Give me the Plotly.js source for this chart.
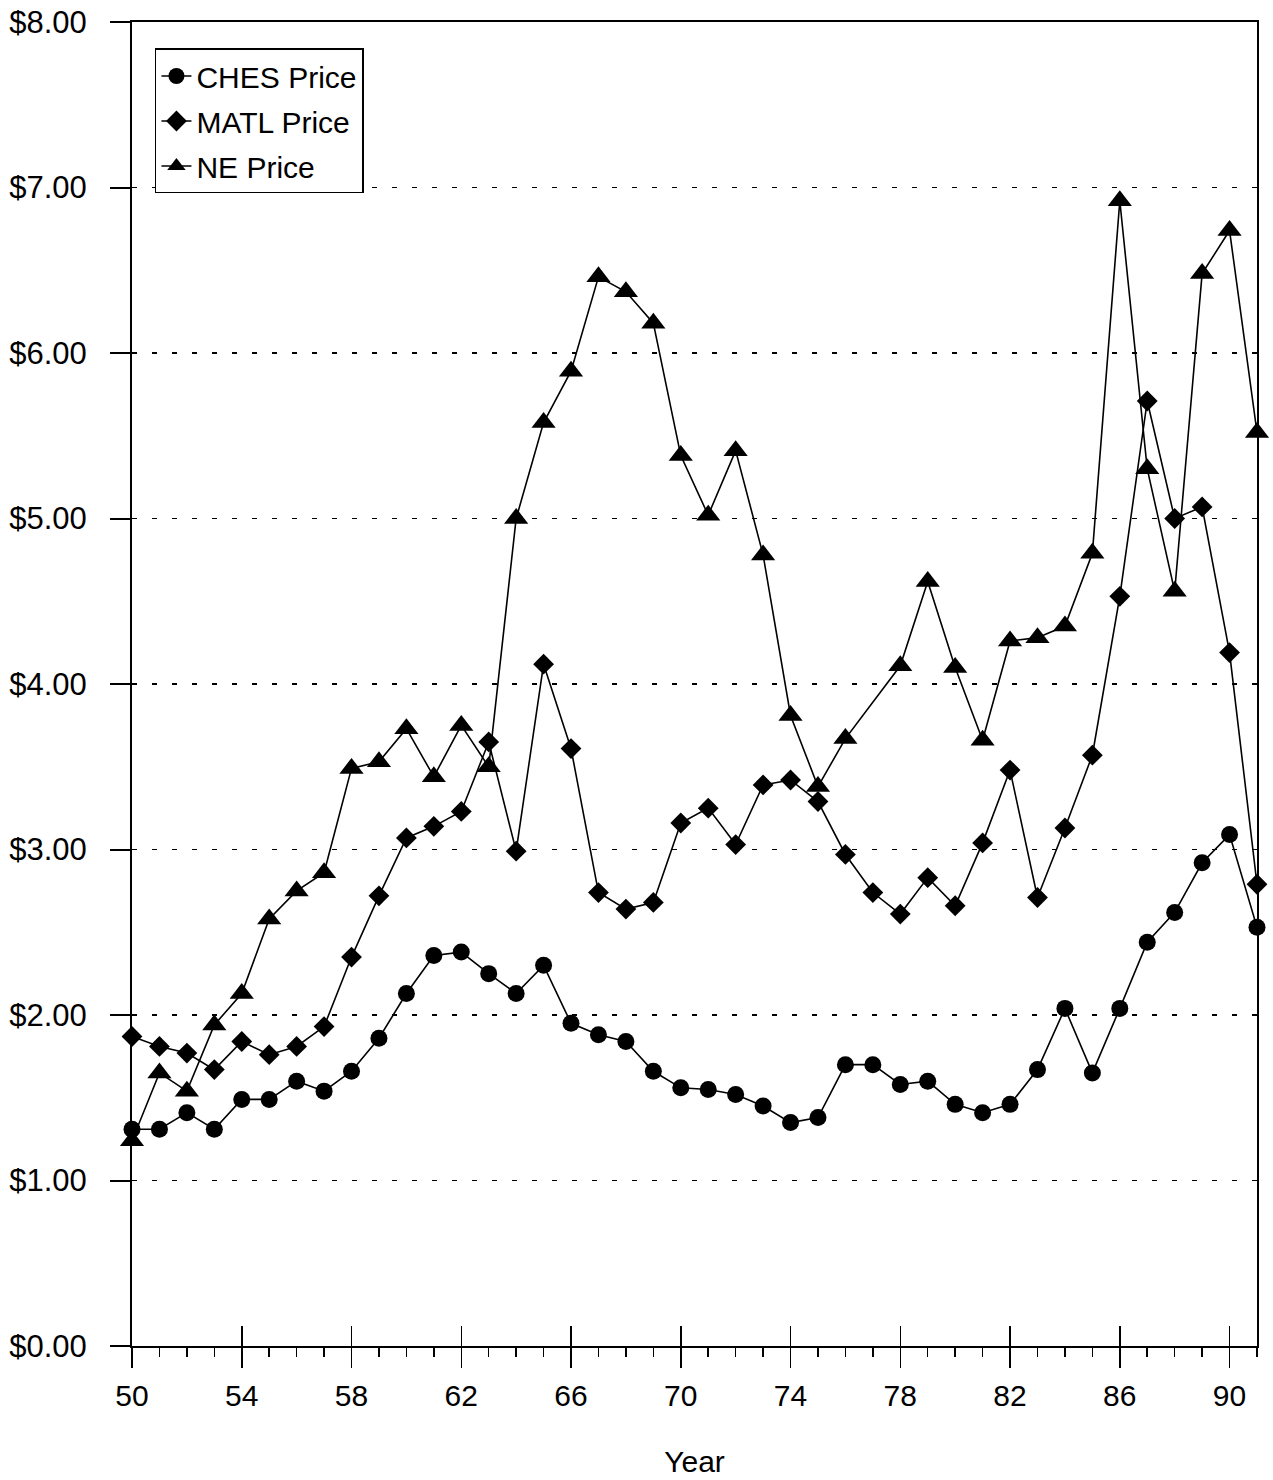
<!DOCTYPE html>
<html>
<head>
<meta charset="utf-8">
<script src="https://cdn.plot.ly/plotly-3.0.1.min.js"></script>
<style>
  html, body { margin: 0; padding: 0; background: #fff; }
  #chart { width: 1273px; height: 1480px; }
</style>
</head>
<body>
<div id="chart"></div>
<script>
// ---- data ----
const years = [50,51,52,53,54,55,56,57,58,59,60,61,62,63,64,65,66,67,68,69,70,
               71,72,73,74,75,76,77,78,79,80,81,82,83,84,85,86,87,88,89,90,91];
const chesPrice = [1.31,1.31,1.41,1.31,1.49,1.49,1.60,1.54,1.66,1.86,2.13,2.36,2.38,2.25,2.13,2.30,1.95,1.88,1.84,1.66,1.56,
                   1.55,1.52,1.45,1.35,1.38,1.70,1.70,1.58,1.60,1.46,1.41,1.46,1.67,2.04,1.65,2.04,2.44,2.62,2.92,3.09,2.53];
const matlPrice = [1.87,1.81,1.77,1.67,1.84,1.76,1.81,1.93,2.35,2.72,3.07,3.14,3.23,3.65,2.99,4.12,3.61,2.74,2.64,2.68,3.16,
                   3.25,3.03,3.39,3.42,3.29,2.97,2.74,2.61,2.83,2.66,3.04,3.48,2.71,3.13,3.57,4.53,5.71,5.00,5.07,4.19,2.79];
const nePrice   = [1.24,1.65,1.54,1.94,2.13,2.58,2.75,2.86,3.49,3.53,3.73,3.44,3.75,3.50,5.00,5.58,5.89,6.46,6.37,6.18,5.38,
                   5.02,5.41,4.78,3.81,3.38,3.67,null,4.11,4.62,4.10,3.66,4.26,4.28,4.35,4.79,6.92,5.30,4.56,6.48,6.74,5.52];
const seriesNames = ["CHES Price", "MATL Price", "NE Price"];
const xTickVals = [50,54,58,62,66,70,74,78,82,86,90];
const yTickVals = [0,1,2,3,4,5,6,7,8];

const FONT = "'Liberation Sans', Arial, Helvetica, sans-serif";
const lineStyle = {color: '#000', width: 1.6};

const traces = [
  {x: years, y: chesPrice, name: seriesNames[0], mode: 'lines+markers', legendgroup: 'a',
   line: lineStyle, marker: {symbol: 'circle', size: 17, color: '#000'}, cliponaxis: false},
  {x: years, y: matlPrice, name: seriesNames[1], mode: 'lines+markers', legendgroup: 'b',
   line: lineStyle, marker: {symbol: 'diamond', size: 16, color: '#000'}, cliponaxis: false},
  {x: years, y: nePrice, name: seriesNames[2], mode: 'lines+markers', legendgroup: 'c', connectgaps: true,
   line: lineStyle, marker: {symbol: 'triangle-up', size: 21, color: '#000'}, cliponaxis: false},
  // carrier for the upward half of the crossing year ticks
  {x: years, y: years.map(() => null), xaxis: 'x2', yaxis: 'y', mode: 'markers',
   showlegend: false, hoverinfo: 'skip'}
];

const layout = {
  width: 1273, height: 1480,
  paper_bgcolor: '#fff', plot_bgcolor: '#fff',
  margin: {l: 132, r: 16, t: 22, b: 134},
  font: {family: FONT, size: 30, color: '#000'},
  showlegend: true,
  legend: {
    x: 0.0204, y: 0.980, xanchor: 'left', yanchor: 'top',
    bgcolor: '#fff', bordercolor: '#000', borderwidth: 1.5,
    font: {family: FONT, size: 30, color: '#000'},
    tracegroupgap: 3, traceorder: 'grouped', itemwidth: 30
  },
  xaxis: {
    range: [50, 91], showgrid: false, zeroline: false,
    showline: true, linecolor: '#000', linewidth: 2, mirror: true,
    tickmode: 'array', tickvals: xTickVals, ticktext: xTickVals.map(String),
    ticks: 'outside', ticklen: 20, tickwidth: 1.5, tickcolor: '#000',
    minor: {tickmode: 'linear', tick0: 50, dtick: 1, ticks: 'outside', ticklen: 9, tickwidth: 1.5, tickcolor: '#000', showgrid: false},
    tickfont: {family: FONT, size: 30, color: '#000'},
    ticklabelstandoff: 2,
    title: {text: 'Year', font: {family: FONT, size: 30, color: '#000'}, standoff: 40}
  },
  xaxis2: {
    overlaying: 'x', anchor: 'y', side: 'bottom', range: [50, 91],
    showgrid: false, zeroline: false, showline: false, showticklabels: false,
    tickmode: 'array', tickvals: xTickVals,
    ticks: 'inside', ticklen: 20, tickwidth: 1.5, tickcolor: '#000'
  },
  yaxis: {
    range: [0, 8], zeroline: false,
    showline: true, linecolor: '#000', linewidth: 2, mirror: true,
    tickmode: 'array', tickvals: yTickVals, ticktext: yTickVals.map(v => '$' + v.toFixed(2)),
    ticks: 'outside', ticklen: 20, tickwidth: 2, tickcolor: '#000',
    tickfont: {family: FONT, size: 31, color: '#000'},
    ticklabelstandoff: 17,
    showgrid: true, gridcolor: '#000', gridwidth: 1.5, griddash: '5px,15px'
  }
};

Plotly.newPlot('chart', traces, layout, {staticPlot: true, displayModeBar: false});
</script>
</body>
</html>
